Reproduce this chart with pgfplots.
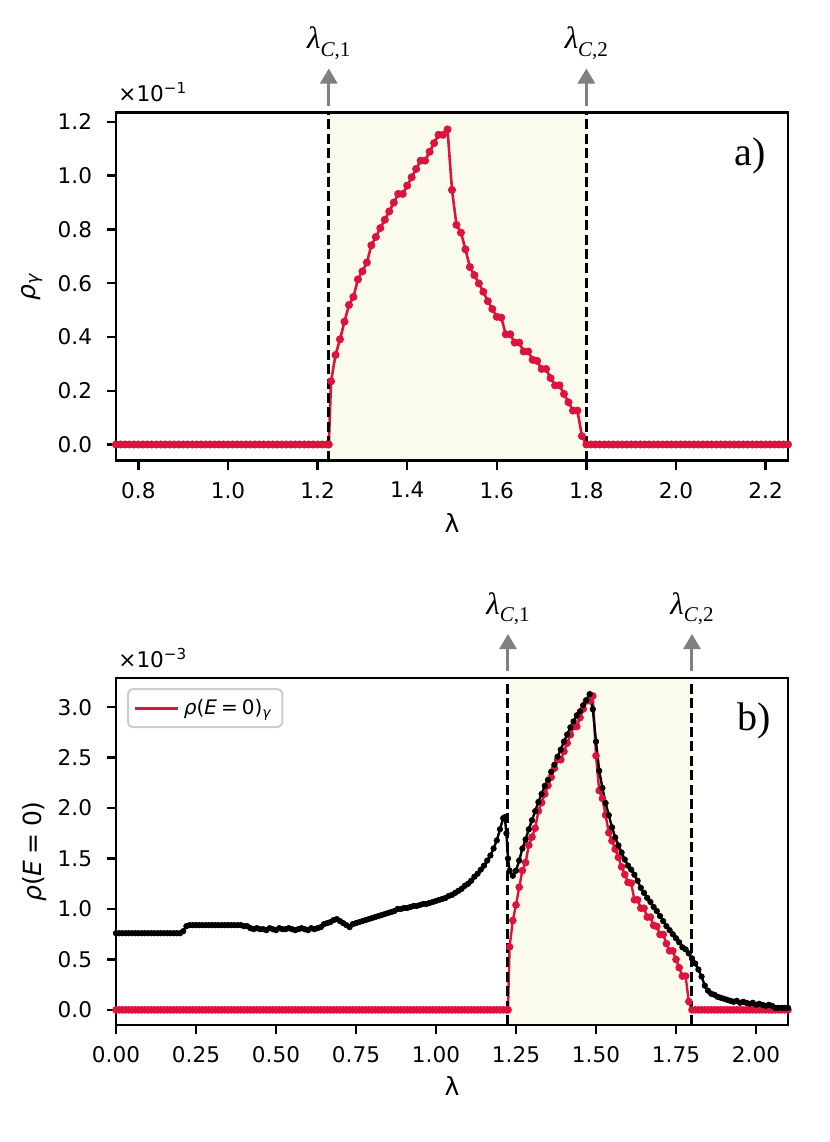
\documentclass[border=0pt]{standalone}
\usepackage{fontspec}
\setmainfont{DejaVu Sans}
\newfontfamily\tnr{Liberation Serif}
\usepackage{pgfplots}
\pgfplotsset{compat=1.18}
\usetikzlibrary{arrows.meta}
\definecolor{crim}{RGB}{220,20,60}
\definecolor{bandfill}{RGB}{250,250,237}
\definecolor{arrgray}{RGB}{128,128,128}
\definecolor{legframe}{RGB}{204,204,204}

\tikzset{
  crit/.style={black, line width=1.5pt, dash pattern=on 5pt off 2.2pt},
  critarrow/.style={arrgray, line width=1.5pt, -{Triangle[length=7.5pt,width=8.5pt]}},
}
\pgfplotsset{
  myaxis/.style={
    scale only axis, width=336pt, clip=false, axis on top,
    axis line style={line width=1.2pt},
    every tick/.style={black, line width=1.2pt},
    tick align=outside, major tick length=4.5pt, tick pos=left,
    tick label style={font=\fontsize{10.8}{13}\selectfont},
    xticklabel style={anchor=north, inner sep=0pt},
    yticklabel style={anchor=east, inner sep=0pt},
    xticklabel shift=6.1pt, yticklabel shift=7.25pt,
    label style={font=\fontsize{12.5}{15}\selectfont},
  },
  topred/.style={crim, line width=1.3pt, mark=*, mark size=1.8pt, mark options={solid, fill=crim, draw=crim, line width=0.4pt}},
  botred/.style={crim, line width=1.2pt, mark=*, mark size=1.7pt, mark options={solid, fill=crim, draw=crim, line width=0.4pt}},
  botblack/.style={black, line width=1.2pt, mark=*, mark size=1.4pt, mark options={solid, fill=black, draw=black, line width=0.3pt}},
}

\begin{document}
\begin{tikzpicture}
% ---------------- panel a ----------------
\begin{axis}[myaxis, name=top, at={(0,0)}, anchor=south west, height=174pt,
  xmin=0.75, xmax=2.25, ymin=-0.0596, ymax=1.235,
  xtick={0.8,1.0,1.2,1.4,1.6,1.8,2.0,2.2},
  xticklabels={0.8,1.0,1.2,1.4,1.6,1.8,2.0,2.2},
  ytick={0,0.2,0.4,0.6,0.8,1.0,1.2},
  yticklabels={0.0,0.2,0.4,0.6,0.8,1.0,1.2},
  xlabel={λ}, ylabel={\textit{ρ}\textsubscript{\textit{γ}}},
  xlabel style={at={(rel axis cs:0.5,-0.180)}, anchor=center},
  ylabel style={at={(rel axis cs:-0.1254,0.5)}, anchor=center},
]
\fill[bandfill] (axis cs:1.225,-0.0596) rectangle (axis cs:1.8,1.235);
\addplot[topred] coordinates {
(0.75,0)(0.76,0)(0.77,0)(0.78,0)(0.79,0)(0.80,0)(0.81,0)(0.82,0)(0.83,0)(0.84,0)
(0.85,0)(0.86,0)(0.87,0)(0.88,0)(0.89,0)(0.90,0)(0.91,0)(0.92,0)(0.93,0)(0.94,0)
(0.95,0)(0.96,0)(0.97,0)(0.98,0)(0.99,0)(1.00,0)(1.01,0)(1.02,0)(1.03,0)(1.04,0)
(1.05,0)(1.06,0)(1.07,0)(1.08,0)(1.09,0)(1.10,0)(1.11,0)(1.12,0)(1.13,0)(1.14,0)
(1.15,0)(1.16,0)(1.17,0)(1.18,0)(1.19,0)(1.20,0)(1.21,0)(1.22,0)(1.225,0)
(1.23,0.235)(1.24,0.333)(1.25,0.391)(1.26,0.457)(1.27,0.519)(1.28,0.549)(1.29,0.614)
(1.30,0.644)(1.31,0.677)(1.32,0.741)(1.33,0.772)(1.34,0.805)(1.35,0.836)(1.36,0.867)
(1.37,0.900)(1.38,0.932)(1.39,0.932)(1.40,0.963)(1.41,0.994)(1.42,1.025)(1.43,1.056)
(1.44,1.056)(1.45,1.089)(1.46,1.121)(1.47,1.152)(1.48,1.152)(1.49,1.172)
(1.50,0.947)(1.51,0.817)(1.52,0.788)(1.53,0.726)(1.54,0.660)(1.55,0.630)(1.56,0.599)
(1.57,0.568)(1.58,0.533)(1.59,0.504)(1.60,0.475)(1.61,0.472)(1.62,0.410)(1.63,0.410)
(1.64,0.379)(1.65,0.379)(1.66,0.346)(1.67,0.346)(1.68,0.315)(1.69,0.311)(1.70,0.281)
(1.71,0.281)(1.72,0.247)(1.73,0.220)(1.74,0.220)(1.75,0.188)(1.76,0.157)(1.77,0.126)
(1.78,0.126)(1.79,0.031)
(1.80,0)(1.81,0)(1.82,0)(1.83,0)(1.84,0)(1.85,0)(1.86,0)(1.87,0)(1.88,0)(1.89,0)
(1.90,0)(1.91,0)(1.92,0)(1.93,0)(1.94,0)(1.95,0)(1.96,0)(1.97,0)(1.98,0)(1.99,0)
(2.00,0)(2.01,0)(2.02,0)(2.03,0)(2.04,0)(2.05,0)(2.06,0)(2.07,0)(2.08,0)(2.09,0)
(2.10,0)(2.11,0)(2.12,0)(2.13,0)(2.14,0)(2.15,0)(2.16,0)(2.17,0)(2.18,0)(2.19,0)
(2.20,0)(2.21,0)(2.22,0)(2.23,0)(2.24,0)(2.25,0)
};
\draw[crit] (axis cs:1.225,-0.0596) -- (axis cs:1.225,1.235);
\draw[crit] (axis cs:1.8,-0.0596) -- (axis cs:1.8,1.235);
\draw[critarrow] ([yshift=3.5pt]axis cs:1.225,1.235) -- ([yshift=22pt]axis cs:1.225,1.235);
\draw[critarrow] ([yshift=3.5pt]axis cs:1.8,1.235) -- ([yshift=22pt]axis cs:1.8,1.235);
\node[anchor=base, inner sep=0pt, font=\tnr\fontsize{15.5}{16}\selectfont] at ([yshift=32pt]axis cs:1.225,1.235) {\textit{λ}\raisebox{-3.9pt}{\fontsize{10.5}{11}\selectfont\textit{C},1}};
\node[anchor=base, inner sep=0pt, font=\tnr\fontsize{15.5}{16}\selectfont] at ([yshift=32pt]axis cs:1.8,1.235) {\textit{λ}\raisebox{-3.9pt}{\fontsize{10.5}{11}\selectfont\textit{C},2}};
\node[anchor=base west, inner sep=0pt, font=\fontsize{10.8}{13}\selectfont] at ([xshift=1pt,yshift=5.5pt]rel axis cs:0,1) {×10\textsuperscript{−1}};
\node[anchor=base east, inner sep=0pt, font=\tnr\fontsize{20}{22}\selectfont] at ([xshift=-11pt,yshift=-26.5pt]rel axis cs:1,1) {a)};
\end{axis}

% ---------------- panel b ----------------
\begin{axis}[myaxis, name=bot, at={(0,-282.25pt)}, anchor=south west, height=173.5pt,
  xmin=0, xmax=2.1, ymin=-0.15, ymax=3.29,
  xtick={0,0.25,0.5,0.75,1.0,1.25,1.5,1.75,2.0},
  xticklabels={0.00,0.25,0.50,0.75,1.00,1.25,1.50,1.75,2.00},
  ytick={0,0.5,1.0,1.5,2.0,2.5,3.0},
  yticklabels={0.0,0.5,1.0,1.5,2.0,2.5,3.0},
  xlabel={λ}, ylabel={\textit{ρ}(\textit{E}\hspace{0.25em}=\hspace{0.25em}0)},
  xlabel style={at={(rel axis cs:0.5,-0.176)}, anchor=center},
  ylabel style={at={(rel axis cs:-0.1205,0.5)}, anchor=center},
  legend style={font=\fontsize{10}{12}\selectfont, at={(rel axis cs:0,1)}, anchor=north west,
    xshift=5.5pt, yshift=-5pt, draw=legframe, line width=1pt, rounded corners=2.5pt,
    inner xsep=3pt, inner ysep=3pt, fill=white},
  legend cell align=left,
]
\fill[bandfill] (axis cs:1.225,-0.15) rectangle (axis cs:1.8,3.29);
\addplot[botred, legend image code/.code={\draw[crim, line width=1.5pt, sharp corners] (0pt,0pt) -- (21.5pt,0pt);}] coordinates {
(0.00,0)(0.01,0)(0.02,0)(0.03,0)(0.04,0)(0.05,0)(0.06,0)(0.07,0)(0.08,0)(0.09,0)
(0.10,0)(0.11,0)(0.12,0)(0.13,0)(0.14,0)(0.15,0)(0.16,0)(0.17,0)(0.18,0)(0.19,0)
(0.20,0)(0.21,0)(0.22,0)(0.23,0)(0.24,0)(0.25,0)(0.26,0)(0.27,0)(0.28,0)(0.29,0)
(0.30,0)(0.31,0)(0.32,0)(0.33,0)(0.34,0)(0.35,0)(0.36,0)(0.37,0)(0.38,0)(0.39,0)
(0.40,0)(0.41,0)(0.42,0)(0.43,0)(0.44,0)(0.45,0)(0.46,0)(0.47,0)(0.48,0)(0.49,0)
(0.50,0)(0.51,0)(0.52,0)(0.53,0)(0.54,0)(0.55,0)(0.56,0)(0.57,0)(0.58,0)(0.59,0)
(0.60,0)(0.61,0)(0.62,0)(0.63,0)(0.64,0)(0.65,0)(0.66,0)(0.67,0)(0.68,0)(0.69,0)
(0.70,0)(0.71,0)(0.72,0)(0.73,0)(0.74,0)(0.75,0)(0.76,0)(0.77,0)(0.78,0)(0.79,0)
(0.80,0)(0.81,0)(0.82,0)(0.83,0)(0.84,0)(0.85,0)(0.86,0)(0.87,0)(0.88,0)(0.89,0)
(0.90,0)(0.91,0)(0.92,0)(0.93,0)(0.94,0)(0.95,0)(0.96,0)(0.97,0)(0.98,0)(0.99,0)
(1.00,0)(1.01,0)(1.02,0)(1.03,0)(1.04,0)(1.05,0)(1.06,0)(1.07,0)(1.08,0)(1.09,0)
(1.10,0)(1.11,0)(1.12,0)(1.13,0)(1.14,0)(1.15,0)(1.16,0)(1.17,0)(1.18,0)(1.19,0)
(1.20,0)(1.21,0)(1.22,0)(1.225,0)
(1.23,0.625)(1.24,0.886)(1.25,1.040)(1.26,1.216)(1.27,1.381)(1.28,1.460)(1.29,1.633)
(1.30,1.713)(1.31,1.801)(1.32,1.971)(1.33,2.054)(1.34,2.141)(1.35,2.224)(1.36,2.306)
(1.37,2.394)(1.38,2.479)(1.39,2.479)(1.40,2.562)(1.41,2.644)(1.42,2.727)(1.43,2.809)
(1.44,2.809)(1.45,2.897)(1.46,2.982)(1.47,3.064)(1.48,3.064)(1.49,3.112)
(1.50,2.519)(1.51,2.173)(1.52,2.096)(1.53,1.931)(1.54,1.756)(1.55,1.676)(1.56,1.593)
(1.57,1.511)(1.58,1.418)(1.59,1.341)(1.60,1.264)(1.61,1.256)(1.62,1.091)(1.63,1.091)
(1.64,1.008)(1.65,1.008)(1.66,0.920)(1.67,0.920)(1.68,0.838)(1.69,0.827)(1.70,0.747)
(1.71,0.747)(1.72,0.657)(1.73,0.585)(1.74,0.585)(1.75,0.500)(1.76,0.418)(1.77,0.335)
(1.78,0.335)(1.79,0.082)
(1.80,0)(1.81,0)(1.82,0)(1.83,0)(1.84,0)(1.85,0)(1.86,0)(1.87,0)(1.88,0)(1.89,0)
(1.90,0)(1.91,0)(1.92,0)(1.93,0)(1.94,0)(1.95,0)(1.96,0)(1.97,0)(1.98,0)(1.99,0)
(2.00,0)(2.01,0)(2.02,0)(2.03,0)(2.04,0)(2.05,0)(2.06,0)(2.07,0)(2.08,0)(2.09,0)
(2.10,0)
};
\addlegendentry{\textit{ρ}(\textit{E}\hspace{0.2em}=\hspace{0.2em}0)\textsubscript{\textit{γ}}}
\addplot[botblack, forget plot] coordinates {
(0.00,0.76)(0.01,0.76)(0.02,0.76)(0.03,0.76)(0.04,0.76)(0.05,0.76)(0.06,0.76)(0.07,0.76)
(0.08,0.76)(0.09,0.76)(0.10,0.76)(0.11,0.76)(0.12,0.76)(0.13,0.76)(0.14,0.76)(0.15,0.76)
(0.16,0.76)(0.17,0.76)(0.18,0.76)(0.19,0.76)(0.20,0.76)(0.21,0.78)(0.22,0.83)(0.23,0.84)
(0.24,0.84)(0.25,0.84)(0.26,0.84)(0.27,0.84)(0.28,0.84)(0.29,0.84)(0.30,0.84)(0.31,0.84)
(0.32,0.84)(0.33,0.84)(0.34,0.84)(0.35,0.84)(0.36,0.84)(0.37,0.84)(0.38,0.84)(0.39,0.84)
(0.40,0.83)(0.41,0.83)(0.42,0.81)(0.43,0.80)(0.44,0.81)(0.45,0.80)(0.46,0.80)(0.47,0.79)
(0.48,0.81)(0.49,0.80)(0.50,0.79)(0.51,0.81)(0.52,0.80)(0.53,0.80)(0.54,0.81)(0.55,0.80)
(0.56,0.79)(0.57,0.80)(0.58,0.81)(0.59,0.80)(0.60,0.79)(0.61,0.81)(0.62,0.80)(0.63,0.81)
(0.64,0.82)(0.65,0.85)(0.66,0.86)(0.67,0.87)(0.68,0.89)(0.69,0.90)(0.70,0.88)(0.71,0.86)
(0.72,0.84)(0.73,0.82)(0.74,0.85)(0.75,0.86)(0.76,0.87)(0.77,0.88)(0.78,0.89)(0.79,0.90)
(0.80,0.91)(0.81,0.92)(0.82,0.93)(0.83,0.94)(0.84,0.95)(0.85,0.96)(0.86,0.97)(0.87,0.98)
(0.88,1.00)(0.89,1.00)(0.90,1.01)(0.91,1.01)(0.92,1.02)(0.93,1.03)(0.94,1.03)(0.95,1.04)
(0.96,1.05)(0.97,1.05)(0.98,1.06)(0.99,1.07)(1.00,1.08)(1.01,1.09)(1.02,1.10)(1.03,1.11)
(1.04,1.13)(1.05,1.14)(1.06,1.16)(1.07,1.18)(1.08,1.20)(1.09,1.23)(1.10,1.25)(1.11,1.28)
(1.12,1.32)(1.13,1.35)(1.14,1.39)(1.15,1.43)(1.16,1.48)(1.17,1.53)(1.18,1.60)(1.19,1.68)
(1.20,1.79)(1.21,1.90)(1.215,1.91)(1.22,1.75)(1.225,1.50)(1.23,1.38)(1.24,1.33)(1.25,1.38)
(1.26,1.48)(1.27,1.60)(1.28,1.69)(1.29,1.79)(1.30,1.88)(1.31,1.97)(1.32,2.06)(1.33,2.14)
(1.34,2.22)(1.35,2.28)(1.36,2.36)(1.37,2.43)(1.38,2.51)(1.39,2.58)(1.40,2.66)(1.41,2.73)
(1.42,2.80)(1.43,2.86)(1.44,2.92)(1.45,2.96)(1.46,3.02)(1.47,3.07)(1.48,3.13)(1.49,2.98)
(1.50,2.66)(1.51,2.37)(1.52,2.20)(1.53,2.05)(1.54,1.93)(1.55,1.81)(1.56,1.71)(1.57,1.63)
(1.58,1.56)(1.59,1.49)(1.60,1.43)(1.61,1.39)(1.62,1.34)(1.63,1.28)(1.64,1.21)(1.65,1.16)
(1.66,1.11)(1.67,1.07)(1.68,1.02)(1.69,0.98)(1.70,0.93)(1.71,0.88)(1.72,0.83)(1.73,0.79)
(1.74,0.75)(1.75,0.71)(1.76,0.67)(1.77,0.62)(1.78,0.60)(1.79,0.56)(1.80,0.51)(1.81,0.46)
(1.82,0.40)(1.83,0.33)(1.84,0.24)(1.85,0.19)(1.86,0.16)(1.87,0.15)(1.88,0.13)(1.89,0.12)
(1.90,0.11)(1.91,0.10)(1.92,0.09)(1.93,0.08)(1.94,0.09)(1.95,0.07)(1.96,0.08)(1.97,0.07)
(1.98,0.06)(1.99,0.07)(2.00,0.05)(2.01,0.06)(2.02,0.05)(2.03,0.04)(2.04,0.05)(2.05,0.04)
(2.06,0.02)(2.07,0.02)(2.08,0.02)(2.09,0.02)(2.10,0.02)
};
\draw[crit] (axis cs:1.225,-0.15) -- (axis cs:1.225,3.29);
\draw[crit] (axis cs:1.8,-0.15) -- (axis cs:1.8,3.29);
\draw[critarrow] ([yshift=3.5pt]axis cs:1.225,3.29) -- ([yshift=22pt]axis cs:1.225,3.29);
\draw[critarrow] ([yshift=3.5pt]axis cs:1.8,3.29) -- ([yshift=22pt]axis cs:1.8,3.29);
\node[anchor=base, inner sep=0pt, font=\tnr\fontsize{15.5}{16}\selectfont] at ([yshift=32pt]axis cs:1.225,3.29) {\textit{λ}\raisebox{-3.9pt}{\fontsize{10.5}{11}\selectfont\textit{C},1}};
\node[anchor=base, inner sep=0pt, font=\tnr\fontsize{15.5}{16}\selectfont] at ([yshift=32pt]axis cs:1.8,3.29) {\textit{λ}\raisebox{-3.9pt}{\fontsize{10.5}{11}\selectfont\textit{C},2}};
\node[anchor=base west, inner sep=0pt, font=\fontsize{10.8}{13}\selectfont] at ([xshift=1pt,yshift=5.5pt]rel axis cs:0,1) {×10\textsuperscript{−3}};
\node[anchor=base east, inner sep=0pt, font=\tnr\fontsize{20}{22}\selectfont] at ([xshift=-8.5pt,yshift=-26pt]rel axis cs:1,1) {b)};
\end{axis}
\pgfresetboundingbox
\useasboundingbox (-58pt,-340.75pt) rectangle (357pt,230.25pt);
\end{tikzpicture}
\end{document}
